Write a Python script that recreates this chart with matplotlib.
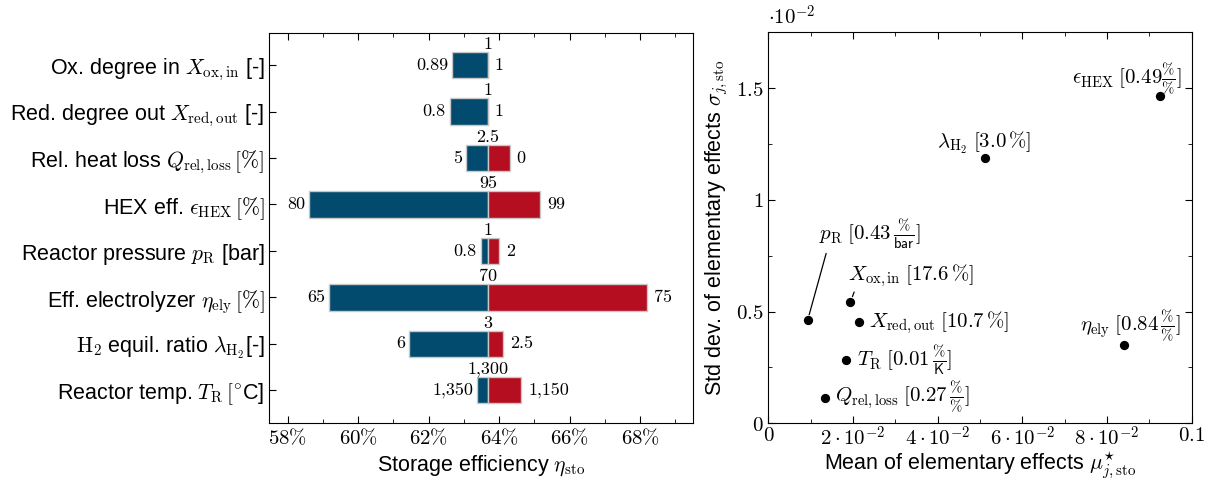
import matplotlib
matplotlib.use("Agg")
from matplotlib import pyplot as plt
from matplotlib.ticker import FuncFormatter, MultipleLocator
import numpy as np

plt.rcParams['font.family'] = ['Liberation Sans', 'DejaVu Sans']
plt.rcParams['mathtext.fontset'] = 'cm'
plt.rcParams['font.size'] = 15

# --- tornado data ---
params = [r'Ox. degree in $X_{\mathrm{ox,in}}$ [-]',
          r'Red. degree out $X_{\mathrm{red,out}}$ [-]',
          r'Rel. heat loss $Q_{\mathrm{rel,loss}}\,[\%]$',
          r'HEX eff. $\epsilon_{\mathrm{HEX}}\,[\%]$',
          r'Reactor pressure $p_{\mathrm{R}}$ [bar]',
          r'Eff. electrolyzer $\eta_{\mathrm{ely}}\,[\%]$',
          r'$\mathrm{H}_2$ equil. ratio $\lambda_{\mathrm{H}_2}$[-]',
          r'Reactor temp. $T_{\mathrm{R}}\,[^{\circ}$C]']
low_lbl = ['0.89', '0.8', '5', '80', '0.8', '65', '6', '1,350']
base_lbl = ['1', '1', '2.5', '95', '1', '70', '3', '1,300']
high_lbl = ['1', '1', '0', '99', '2', '75', '2.5', '1,150']
eta_low = [62.67, 62.60, 63.07, 58.62, 63.48, 59.18, 61.45, 63.38]
eta_high = [63.68, 63.68, 64.30, 65.16, 64.00, 68.20, 64.11, 64.63]
eta_base = 63.68

# --- elementary effects data ---
ee_names = [r'$\epsilon_{\mathrm{HEX}}\;[0.49\frac{\%}{\%}]$',
            r'$\lambda_{\mathrm{H}_2}\;[3.0\,\%]$',
            r'$p_{\mathrm{R}}\;[0.43\,\frac{\%}{\mathsf{bar}}]$',
            r'$X_{\mathrm{ox,in}}\;[17.6\,\%]$',
            r'$X_{\mathrm{red,out}}\;[10.7\,\%]$',
            r'$T_{\mathrm{R}}\;[0.01\,\frac{\%}{\mathsf{K}}]$',
            r'$Q_{\mathrm{rel,loss}}\;[0.27\,\frac{\%}{\%}]$',
            r'$\eta_{\mathrm{ely}}\;[0.84\,\frac{\%}{\%}]$']
mu_star = [0.0926, 0.0511, 0.0093, 0.0194, 0.0214, 0.0183, 0.0135, 0.0841]
sigma = [0.01466, 0.01186, 0.00462, 0.00544, 0.00452, 0.00282, 0.00115, 0.00349]

blue = '#024b6f'
red = '#b50e21'

fig = plt.figure(figsize=(12.13, 4.8), dpi=100)
ax1 = fig.add_axes([0.2220, 0.1194, 0.3496, 0.8125])
ax2 = fig.add_axes([0.6334, 0.1181, 0.3490, 0.8146])

y = np.arange(len(params))
h = 0.57
ax1.barh(y, np.array(eta_low) - eta_base, left=eta_base, height=h,
         color=blue, edgecolor='#c8c8c8', linewidth=1)
ax1.barh(y, np.array(eta_high) - eta_base, left=eta_base, height=h,
         color=red, edgecolor='#c8c8c8', linewidth=1)
for i in range(len(params)):
    ax1.annotate(low_lbl[i], (eta_low[i], y[i]), xytext=(-3, 0), textcoords='offset points',
                 ha='right', va='center', family='cmr10', fontsize=13)
    ax1.annotate(high_lbl[i], (max(eta_high[i], eta_base), y[i]), xytext=(5, 0),
                 textcoords='offset points', ha='left', va='center', family='cmr10', fontsize=13)
    ax1.annotate(base_lbl[i], (eta_base, y[i] - h / 2), xytext=(0, 0),
                 textcoords='offset points', ha='center', va='bottom', family='cmr10', fontsize=13)
ax1.set_yticks(y)
ax1.set_yticklabels(params, fontsize=15.5)
ax1.set_ylim(7.7, -0.7)
ax1.set_xlim(57.48, 69.51)
ax1.xaxis.set_major_locator(MultipleLocator(2))
ax1.xaxis.set_minor_locator(MultipleLocator(1))
ax1.xaxis.set_major_formatter(FuncFormatter(lambda v, p: r'$%d\%%$' % round(v)))
ax1.tick_params(axis='x', which='both', direction='in', top=True, labelsize=15)
ax1.tick_params(axis='x', which='major', length=5)
ax1.tick_params(axis='x', which='minor', length=3)
ax1.tick_params(axis='y', direction='in', length=5)
ax1.set_xlabel(r'Storage efficiency $\eta_{\mathrm{sto}}$', fontsize=15.5)

# --- scatter ---
ax2.scatter(mu_star, sigma, s=32, color='black', zorder=3)
offsets = [(15, -1, 'right', 'bottom'), (0, 2, 'center', 'bottom'), (8, 50, 'left', 'bottom'),
           (-2, 9, 'left', 'bottom'), (7, 0, 'left', 'center'), (8, 0, 'left', 'center'),
           (7, 0, 'left', 'center'), (41, 1, 'right', 'bottom')]
for i, name in enumerate(ee_names):
    dx, dy, ha, va = offsets[i]
    arrow = None
    if i in (2, 3):
        arrow = dict(arrowstyle='-', color='black', lw=0.9, shrinkA=0, shrinkB=4,
                     relpos=(0.08, 0.0) if i == 2 else (0.06, 0.0))
    ax2.annotate(name, (mu_star[i], sigma[i]), xytext=(dx, dy), textcoords='offset points',
                 ha=ha, va=va, fontsize=15, arrowprops=arrow)
ax2.set_xlim(0, 0.1)
ax2.set_ylim(0, 0.0175)
ax2.xaxis.set_major_locator(MultipleLocator(0.02))
ax2.xaxis.set_minor_locator(MultipleLocator(0.01))
ax2.yaxis.set_major_locator(MultipleLocator(0.005))
ax2.yaxis.set_minor_locator(MultipleLocator(0.0025))


def xfmt(v, p):
    if abs(v) < 1e-9:
        return r'$0$'
    if abs(v - 0.1) < 1e-9:
        return r'$0.1$'
    return r'$%d\cdot10^{-2}$' % round(v * 100)


def yfmt(v, p):
    s = '%g' % round(v * 100, 2)
    return '$' + s + '$'


ax2.xaxis.set_major_formatter(FuncFormatter(xfmt))
ax2.yaxis.set_major_formatter(FuncFormatter(yfmt))
ax2.tick_params(which='both', direction='in', top=True, right=True, labelsize=15)
ax2.tick_params(axis='x', pad=2)
ax2.tick_params(which='major', length=5)
ax2.tick_params(which='minor', length=3)
ax2.text(0, 1.01, r'$\cdot10^{-2}$', transform=ax2.transAxes, ha='left', va='bottom', fontsize=15)
ax2.set_xlabel(r'Mean of elementary effects $\mu^{\star}_{j,\mathrm{sto}}$', fontsize=15.5,
               labelpad=0)
ax2.set_ylabel(r'Std dev. of elementary effects $\sigma_{j,\mathrm{sto}}$', fontsize=15.5)

fig.savefig('out.png', dpi=100)
